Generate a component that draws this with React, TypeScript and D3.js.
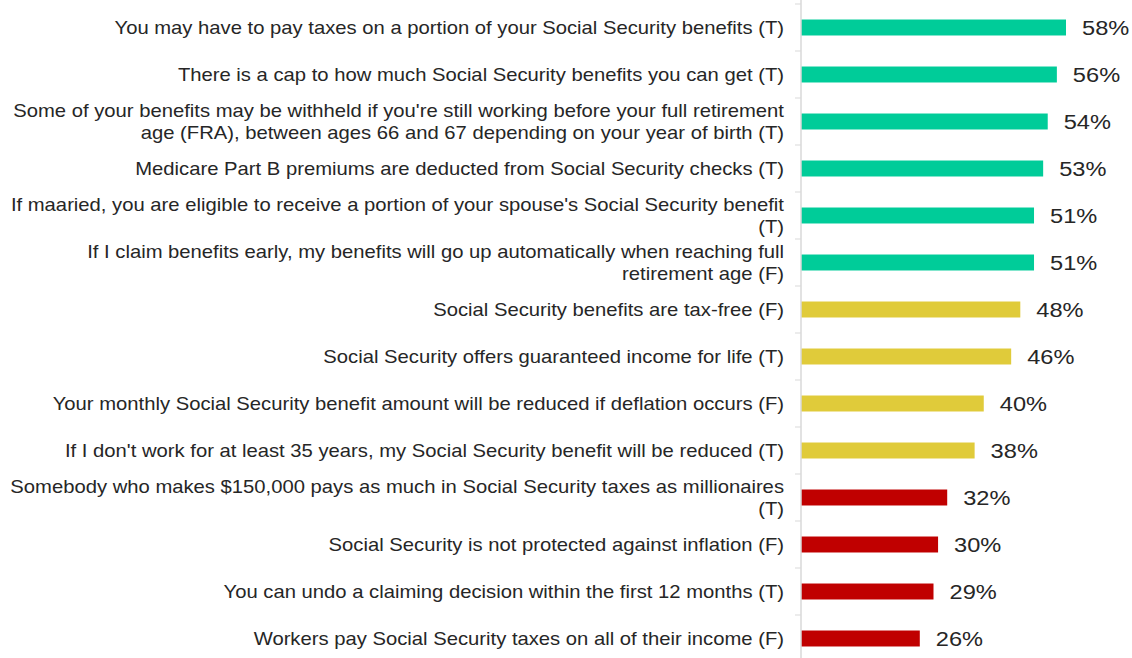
import React from "react";
import * as d3 from "d3";

const labels = [
  "You may have to pay taxes on a portion of your Social Security benefits (T)",
  "There is a cap to how much Social Security benefits you can get (T)",
  "Some of your benefits may be withheld if you're still working before your full retirement\nage (FRA), between ages 66 and 67 depending on your year of birth (T)",
  "Medicare Part B premiums are deducted from Social Security checks (T)",
  "If maaried, you are eligible to receive a portion of your spouse's Social Security benefit\n(T)",
  "If I claim benefits early, my benefits will go up automatically when reaching full\nretirement age (F)",
  "Social Security benefits are tax-free (F)",
  "Social Security offers guaranteed income for life (T)",
  "Your monthly Social Security benefit amount will be reduced if deflation occurs (F)",
  "If I don't work for at least 35 years, my Social Security benefit will be reduced (T)",
  "Somebody who makes $150,000 pays as much in Social Security taxes as millionaires\n(T)",
  "Social Security is not protected against inflation (F)",
  "You can undo a claiming decision within the first 12 months (T)",
  "Workers pay Social Security taxes on all of their income (F)",
];

const values = [58, 56, 54, 53, 51, 51, 48, 46, 40, 38, 32, 30, 29, 26];

// answer group: share answering correctly
const groups = ["high", "high", "high", "high", "high", "high", "mid", "mid", "mid", "mid", "low", "low", "low", "low"];

const groupColors: Record<string, string> = {
  high: "#00CC99",
  mid: "#E0CB3A",
  low: "#C00000",
};

export default function App() {
  const width = 1132;
  const height = 658;
  const x0 = 801;
  const stretch = 1.125; // text in the source is a bit wide

  const y = d3
    .scaleBand<number>()
    .domain(d3.range(labels.length))
    .range([4, 4 + 47 * labels.length])
    .paddingInner(0.66)
    .paddingOuter(0.33);

  const x = d3.scaleLinear().domain([0, 58]).range([x0, 1066]);

  const font = "Arial, 'Liberation Sans', sans-serif";
  const step = y.step();
  const ticks = d3.range(labels.length + 1).map((i) => 4 + i * step);

  return (
    <svg
      width={width}
      height={height}
      style={{ position: "absolute", left: 0, top: 0, background: "#fff" }}
    >
      {values.map((v, i) => (
        <rect
          key={"b" + i}
          x={x0}
          y={y(i)}
          width={x(v) - x0}
          height={y.bandwidth()}
          fill={groupColors[groups[i]]}
        />
      ))}
      <line x1={x0} x2={x0} y1={0} y2={height} stroke="#d9d9d9" strokeWidth={1.5} />
      {ticks.map((t, i) => (
        <line key={"t" + i} x1={795} x2={x0} y1={t} y2={t} stroke="#d9d9d9" strokeWidth={1} />
      ))}
      {labels.map((lab, i) => {
        const lines = lab.split("\n");
        const cy = (y(i) as number) + y.bandwidth() / 2;
        const lh = 22;
        return (
          <text
            key={"l" + i}
            transform={`translate(784,${cy}) scale(${stretch},1)`}
            textAnchor="end"
            fontFamily={font}
            fontSize={18}
            fill="#262626"
          >
            {lines.map((ln, j) => (
              <tspan key={j} x={0} y={(j - (lines.length - 1) / 2) * lh} dy="0.35em">
                {ln}
              </tspan>
            ))}
          </text>
        );
      })}
      {values.map((v, i) => (
        <text
          key={"v" + i}
          transform={`translate(${x(v) + 16},${(y(i) as number) + y.bandwidth() / 2}) scale(${stretch},1)`}
          dy="0.36em"
          fontFamily={font}
          fontSize={21}
          fill="#262626"
        >
          {v}%
        </text>
      ))}
    </svg>
  );
}
